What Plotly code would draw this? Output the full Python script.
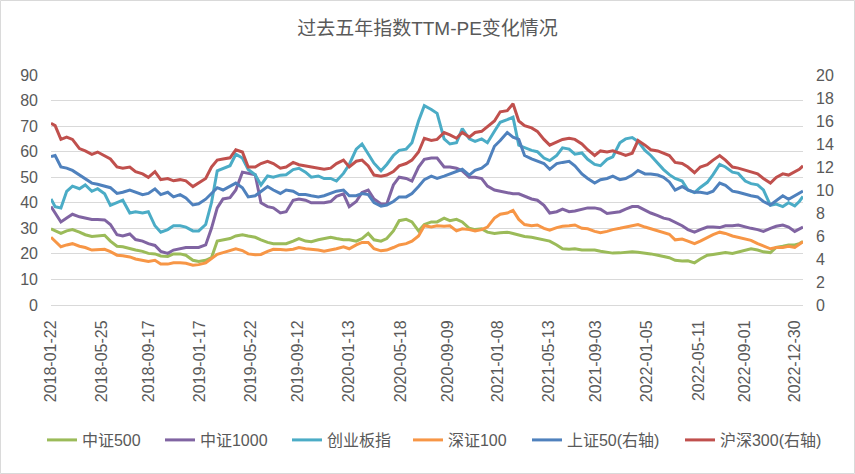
import plotly.graph_objects as go

# sample dates (semi-monthly readings of the daily series)
dates = [
    "2018-01-22", "2018-02-01", "2018-02-15", "2018-03-01", "2018-03-15", "2018-04-01", "2018-04-15",
    "2018-05-01", "2018-05-15", "2018-06-01", "2018-06-15", "2018-07-01", "2018-07-15", "2018-08-01",
    "2018-08-15", "2018-09-01", "2018-09-15", "2018-10-01", "2018-10-15", "2018-11-01", "2018-11-15",
    "2018-12-01", "2018-12-15",
    "2019-01-01", "2019-01-15", "2019-02-01", "2019-02-15", "2019-03-01", "2019-03-15", "2019-04-01",
    "2019-04-15", "2019-05-01", "2019-05-15", "2019-06-01", "2019-06-15", "2019-07-01", "2019-07-15",
    "2019-08-01", "2019-08-15", "2019-09-01", "2019-09-15", "2019-10-01", "2019-10-15", "2019-11-01",
    "2019-11-15", "2019-12-01", "2019-12-15",
    "2020-01-01", "2020-01-15", "2020-02-01", "2020-02-15", "2020-03-01", "2020-03-15", "2020-04-01",
    "2020-04-15", "2020-05-01", "2020-05-15", "2020-06-01", "2020-06-15", "2020-07-01", "2020-07-15",
    "2020-08-01", "2020-08-15", "2020-09-01", "2020-09-15", "2020-10-01", "2020-10-15", "2020-11-01",
    "2020-11-15", "2020-12-01", "2020-12-15",
    "2021-01-01", "2021-01-15", "2021-02-01", "2021-02-15", "2021-03-01", "2021-03-15", "2021-04-01",
    "2021-04-15", "2021-05-01", "2021-05-15", "2021-06-01", "2021-06-15", "2021-07-01", "2021-07-15",
    "2021-08-01", "2021-08-15", "2021-09-01", "2021-09-15", "2021-10-01", "2021-10-15", "2021-11-01",
    "2021-11-15", "2021-12-01", "2021-12-15",
    "2022-01-01", "2022-01-15", "2022-02-01", "2022-02-15", "2022-03-01", "2022-03-15", "2022-04-01",
    "2022-04-15", "2022-05-01", "2022-05-15", "2022-06-01", "2022-06-15", "2022-07-01", "2022-07-15",
    "2022-08-01", "2022-08-15", "2022-09-01", "2022-09-15", "2022-10-01", "2022-10-15", "2022-11-01",
    "2022-11-15", "2022-12-01", "2022-12-15", "2022-12-30",
    "2023-01-10", "2023-01-19",
]

# left axis
zz500 = [
    29.8, 29.0, 28.0, 29.0, 29.5, 28.5, 27.5, 26.8, 27.0, 27.3, 25.0, 23.0, 22.8, 22.0, 21.5, 21.0, 20.2, 20.0, 19.2, 19.0, 20.0,
    20.0, 19.5, 17.5, 17.0, 17.5, 18.5, 25.0, 25.5, 26.0, 27.0, 27.5, 27.0, 26.5, 25.5, 24.5, 24.0, 24.0, 24.0, 25.0, 26.0,
    25.0, 24.8, 25.5, 26.0, 26.5, 26.0, 25.5, 25.5, 25.0, 26.0, 28.0, 25.5, 25.0, 26.0, 29.0, 33.0, 33.5, 32.5, 29.0, 31.5, 32.5,
    32.5, 34.0, 33.0, 33.5, 32.5, 30.0, 29.5, 29.8, 28.5, 28.0, 28.3, 28.5, 28.0, 27.5, 26.8, 26.5, 26.0, 25.5, 25.0, 23.5, 22.0,
    21.8, 22.0, 21.5, 21.5, 21.5, 21.0, 20.5, 20.3, 20.4, 20.5, 20.8, 20.6, 20.4, 20.0, 19.5, 19.0, 18.5, 17.5, 17.2, 17.3, 16.5,
    18.0, 19.5, 19.8, 20.2, 20.5, 20.2, 20.8, 21.3, 22.0, 21.5, 20.8, 20.5, 22.5, 23.0, 23.5, 23.5, 24.0, 24.8,
]
zz1000 = [
    38.5, 36.0, 32.5, 34.0, 35.5, 34.5, 34.0, 33.5, 33.5, 33.3, 31.5, 27.5, 27.0, 27.8, 25.6, 25.0, 24.0, 23.3, 21.0, 20.2, 21.5,
    22.0, 22.5, 22.5, 22.5, 23.5, 30.0, 38.0, 41.5, 42.0, 45.0, 52.0, 51.5, 51.0, 40.0, 38.5, 38.0, 36.0, 36.5, 41.0, 41.5,
    41.0, 40.0, 40.0, 40.0, 40.5, 42.5, 43.5, 38.5, 40.5, 44.0, 45.0, 41.5, 39.5, 39.5, 47.0, 50.0, 49.5, 48.5, 54.0, 57.0, 57.5,
    57.5, 54.0, 54.0, 53.5, 52.5, 50.0, 50.0, 49.5, 46.5, 45.0, 44.5, 44.0, 43.5, 43.5, 42.5, 41.5, 41.0, 39.0, 36.0, 36.5, 37.5,
    36.5, 36.8, 37.5, 38.0, 38.0, 37.5, 35.8, 36.0, 36.5, 37.5, 38.5, 38.5, 37.0, 36.0, 35.0, 34.0, 33.5, 32.5, 31.0, 29.5, 28.5,
    29.5, 30.5, 30.5, 30.3, 31.0, 31.0, 31.3, 30.5, 30.0, 29.5, 28.8, 30.0, 30.8, 31.3, 30.5, 28.8, 29.8, 30.5,
]
cyb = [
    41.5, 38.5, 38.0, 44.5, 46.5, 45.5, 47.0, 44.5, 45.5, 43.5, 39.0, 40.0, 41.0, 36.0, 36.5, 36.0, 36.5, 31.0, 28.5, 29.5, 31.0,
    31.0, 30.5, 29.0, 29.0, 31.5, 40.0, 52.5, 53.5, 54.5, 59.0, 57.5, 53.0, 51.0, 47.0, 50.5, 50.0, 50.8, 51.0, 53.0, 53.5,
    52.0, 50.0, 50.5, 49.5, 49.5, 48.5, 51.5, 55.0, 61.0, 63.0, 59.0, 55.5, 52.5, 55.0, 58.5, 60.5, 61.0, 63.5, 72.0, 78.0, 76.5,
    75.0, 65.0, 63.0, 63.5, 69.0, 65.0, 64.0, 65.0, 63.5, 68.0, 71.5, 72.5, 73.5, 62.5, 61.5, 60.5, 60.0, 57.5, 56.5, 58.5, 61.5,
    61.0, 59.0, 59.5, 57.0, 55.0, 54.5, 57.0, 58.0, 63.5, 65.0, 65.5, 64.0, 60.5, 58.5, 55.5, 53.0, 51.0, 49.5, 48.5, 45.0, 44.0,
    46.0, 48.0, 51.0, 55.0, 54.0, 52.0, 51.5, 48.5, 47.5, 47.0, 45.0, 39.0, 39.5, 38.5, 40.0, 38.8, 40.5, 42.5,
]
sz100 = [
    26.5, 25.0, 22.8, 23.5, 24.0, 23.0, 22.5, 21.5, 21.7, 21.8, 20.9, 19.5, 19.3, 18.8, 18.0, 17.5, 17.0, 17.5, 16.0, 16.0, 16.5,
    16.5, 16.3, 15.6, 15.8, 16.5, 18.0, 19.8, 20.5, 21.3, 22.0, 21.3, 20.0, 19.7, 19.8, 21.0, 21.8, 21.7, 21.5, 21.8, 22.5,
    22.0, 21.8, 21.5, 21.0, 21.5, 22.0, 22.8, 22.0, 23.5, 24.5, 24.5, 22.0, 21.2, 21.5, 22.5, 23.5, 24.0, 25.0, 27.0, 31.0, 30.5,
    31.0, 30.8, 31.0, 29.0, 29.8, 29.5, 29.0, 29.5, 30.5, 34.0, 35.5, 36.0, 37.0, 33.5, 31.5, 31.0, 31.3, 30.0, 29.3, 30.3, 30.8,
    31.0, 31.3, 30.0, 29.8, 28.8, 28.3, 28.8, 29.5, 30.0, 30.5, 31.0, 31.5, 30.5, 29.8, 28.8, 28.3, 27.7, 25.5, 25.8, 25.0, 24.0,
    25.0, 26.5, 27.5, 28.5, 28.0, 27.0, 26.5, 25.8, 25.3, 24.0, 23.0, 22.0, 22.5, 22.5, 23.0, 22.5, 23.8, 24.8,
]

# right axis
sz50 = [
    12.9, 13.0, 12.0, 11.9, 11.7, 11.3, 10.9, 10.6, 10.5, 10.3, 10.2, 9.7, 9.8, 10.0, 9.8, 9.6, 9.7, 10.1, 9.6, 9.8, 9.4,
    9.6, 9.3, 8.7, 8.8, 9.2, 9.7, 10.2, 10.0, 10.3, 10.6, 10.2, 9.4, 9.5, 9.9, 10.3, 10.0, 9.7, 10.0, 9.9, 9.6,
    9.6, 9.5, 9.4, 9.5, 9.7, 9.9, 10.0, 9.5, 9.5, 9.7, 9.6, 8.9, 8.6, 8.7, 9.0, 9.4, 9.4, 9.7, 10.3, 10.9, 11.2,
    11.0, 11.2, 11.4, 11.6, 11.8, 11.3, 11.7, 11.9, 12.3, 13.8, 14.3, 15.0, 14.6, 14.4, 13.0, 12.7, 12.5, 12.3, 11.8, 12.3, 12.4,
    12.5, 12.1, 11.4, 11.0, 10.6, 10.9, 11.0, 11.2, 10.9, 11.0, 11.3, 11.7, 11.4, 11.4, 11.3, 11.1, 10.7, 10.0, 10.3, 10.0, 9.8,
    9.8, 9.7, 9.9, 10.6, 10.4, 9.9, 9.8, 9.6, 9.5, 9.4, 9.0, 8.7, 9.1, 9.5, 9.2, 9.5, 9.7, 9.9,
]
hs300 = [
    15.8, 15.6, 14.4, 14.6, 14.4, 13.6, 13.4, 13.1, 13.3, 13.0, 12.7, 12.0, 11.9, 12.0, 11.6, 11.4, 11.1, 11.6, 10.9, 11.0, 10.8,
    10.9, 10.8, 10.3, 10.6, 11.0, 12.0, 12.6, 12.7, 12.8, 13.5, 13.3, 12.0, 12.0, 12.3, 12.5, 12.3, 11.9, 12.0, 12.4, 12.2,
    12.1, 12.0, 11.9, 11.8, 11.9, 12.3, 12.6, 12.0, 12.5, 12.6, 12.1, 11.3, 11.2, 11.3, 11.6, 12.1, 12.3, 12.6, 13.3, 14.5, 14.3,
    14.4, 15.0, 14.8, 14.5, 15.0, 14.6, 15.0, 15.1, 15.5, 16.0, 16.8, 16.9, 17.5, 16.0, 15.6, 15.4, 15.1, 14.4, 13.9, 14.2, 14.4,
    14.5, 14.4, 14.0, 13.5, 13.0, 13.4, 13.3, 13.4, 13.2, 13.0, 13.2, 14.3, 13.9, 13.5, 13.4, 13.2, 13.0, 12.4, 12.3, 12.0, 11.5,
    12.0, 12.2, 12.6, 13.0, 12.6, 12.0, 11.9, 11.7, 11.6, 11.4, 11.0, 10.6, 11.1, 11.4, 11.3, 11.6, 11.8, 12.1,
]

tick_dates = [
    "2018-01-22", "2018-05-25", "2018-09-17", "2019-01-17", "2019-05-22", "2019-09-12", "2020-01-13", "2020-05-18",
    "2020-09-09", "2021-01-08", "2021-05-13", "2021-09-03", "2022-01-05", "2022-05-11", "2022-09-01", "2022-12-30",
]

# name, values, colour, axis, legend entry width
series = [
    ("中证500", zz500, "#9BBB59", "y", 73),
    ("中证1000", zz1000, "#8064A2", "y", 82),
    ("创业板指", cyb, "#4BACC6", "y", 76),
    ("深证100", sz100, "#F79646", "y", 74),
    ("上证50(右轴)", sz50, "#4F81BD", "y2", 108),
    ("沪深300(右轴)", hs300, "#C0504D", "y2", 110),
]

FONT = "Liberation Sans, Noto Sans CJK SC, sans-serif"
GREY = "#595959"

fig = go.Figure()
for name, vals, color, axis, lw in series:
    fig.add_trace(go.Scatter(
        x=dates, y=vals, name=name, mode="lines", yaxis=axis,
        line=dict(color=color, width=3), legendwidth=lw,
    ))

fig.update_layout(
    width=855, height=474,
    margin=dict(l=51, r=52, t=75, b=169),
    paper_bgcolor="white", plot_bgcolor="white",
    font=dict(family=FONT, color=GREY, size=16),
    title=dict(text="过去五年指数TTM-PE变化情况", x=0.5, xanchor="center", y=0.94, yanchor="middle",
               font=dict(size=19, color=GREY, family=FONT)),
    showlegend=True,
    legend=dict(orientation="h", x=-0.012, xanchor="left", y=-0.587, yanchor="middle",
                font=dict(size=16, color=GREY, family=FONT), tracegroupgap=0),
    xaxis=dict(
        type="date", range=["2018-01-22", "2023-01-19"],
        tickvals=tick_dates, ticktext=tick_dates, tickangle=-90, ticklabelstandoff=8,
        showgrid=False, showline=True, linecolor="#D9D9D9", linewidth=1,
        ticks="", tickfont=dict(size=16, color=GREY),
    ),
    yaxis=dict(
        range=[0, 90], dtick=10, showgrid=True, gridcolor="#D9D9D9", gridwidth=1,
        zeroline=False, showline=False, ticks="", ticklabelstandoff=12,
        tickfont=dict(size=16, color=GREY),
    ),
    yaxis2=dict(
        range=[0, 20], dtick=2, overlaying="y", side="right", showgrid=False,
        zeroline=False, showline=False, ticks="", ticklabelstandoff=12,
        tickfont=dict(size=16, color=GREY),
    ),
    shapes=[dict(type="rect", xref="paper", yref="paper",
                 x0=-0.0672, x1=1.0685, y0=-0.7326, y1=1.3239,
                 line=dict(color="#D9D9D9", width=1))],
)

fig.write_html("out.html", config={"displayModeBar": False},
               post_script="document.body.style.margin='0';")
